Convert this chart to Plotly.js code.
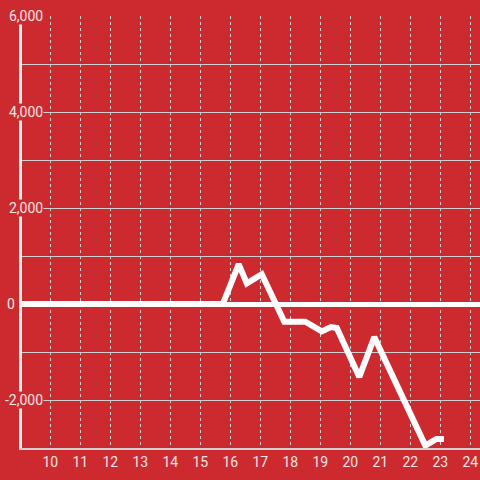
<!DOCTYPE html>
<html>
<head>
<meta charset="utf-8">
<script src="https://cdn.plot.ly/plotly-3.0.1.min.js"></script>
<style>html,body{margin:0;padding:0;background:#cd2a2f;}#chart{width:480px;height:480px;}</style>
</head>
<body>
<div id="chart"></div>
<script>
// data
const xValues = [9, 15.75, 16.28, 16.55, 17.05, 17.8, 18.5, 19.05, 19.35, 19.55, 20.3, 20.8, 22.5, 22.87, 23.12];
const yValues = [0, 0, 830, 430, 620, -370, -370, -570, -480, -500, -1520, -690, -2950, -2810, -2810];
const yTickValues = [6000, 4000, 2000, 0, -2000];
const yTickLabels = ['6,000', '4,000', '2,000', '0', '-2,000'];

const BG = '#cd2a2f';
const TXT = '#f0e6e6';
const GRID = '#cfcfcf';

const annotations = yTickValues.map((v, i) => ({
  xref: 'paper', yref: 'y',
  x: v === 0 ? -0.0131 : 0.048,
  y: v,
  xanchor: 'right', yanchor: 'middle',
  text: yTickLabels[i],
  showarrow: false,
  bgcolor: BG,
  borderpad: 0,
  font: {family: 'Roboto, Arial, sans-serif', size: 14, color: TXT}
}));

const trace = {
  x: xValues, y: yValues,
  type: 'scatter', mode: 'lines',
  line: {color: '#ffffff', width: 6},
  hoverinfo: 'none'
};

const layout = {
  width: 480, height: 480,
  margin: {l: 22, r: 0, t: 16, b: 32},
  paper_bgcolor: BG, plot_bgcolor: BG,
  showlegend: false,
  font: {family: 'Roboto, Arial, sans-serif', size: 14, color: TXT},
  xaxis: {
    range: [9.057, 24.323],
    tick0: 10, dtick: 1,
    showgrid: true, gridcolor: GRID, gridwidth: 1, griddash: 'dot',
    zeroline: false,
    showline: true, linecolor: GRID, linewidth: 2,
    ticks: '',
    tickfont: {family: 'Roboto, Arial, sans-serif', size: 14, color: TXT}
  },
  yaxis: {
    range: [-3000, 6000],
    tick0: 0, dtick: 1000,
    showgrid: true, gridcolor: GRID, gridwidth: 1,
    zeroline: true, zerolinecolor: '#ffffff', zerolinewidth: 5,
    showline: true, linecolor: '#eeeeee', linewidth: 3,
    showticklabels: false, ticks: ''
  },
  annotations: annotations
};

Plotly.newPlot('chart', [trace], layout, {staticPlot: true, displayModeBar: false});
</script>
</body>
</html>
